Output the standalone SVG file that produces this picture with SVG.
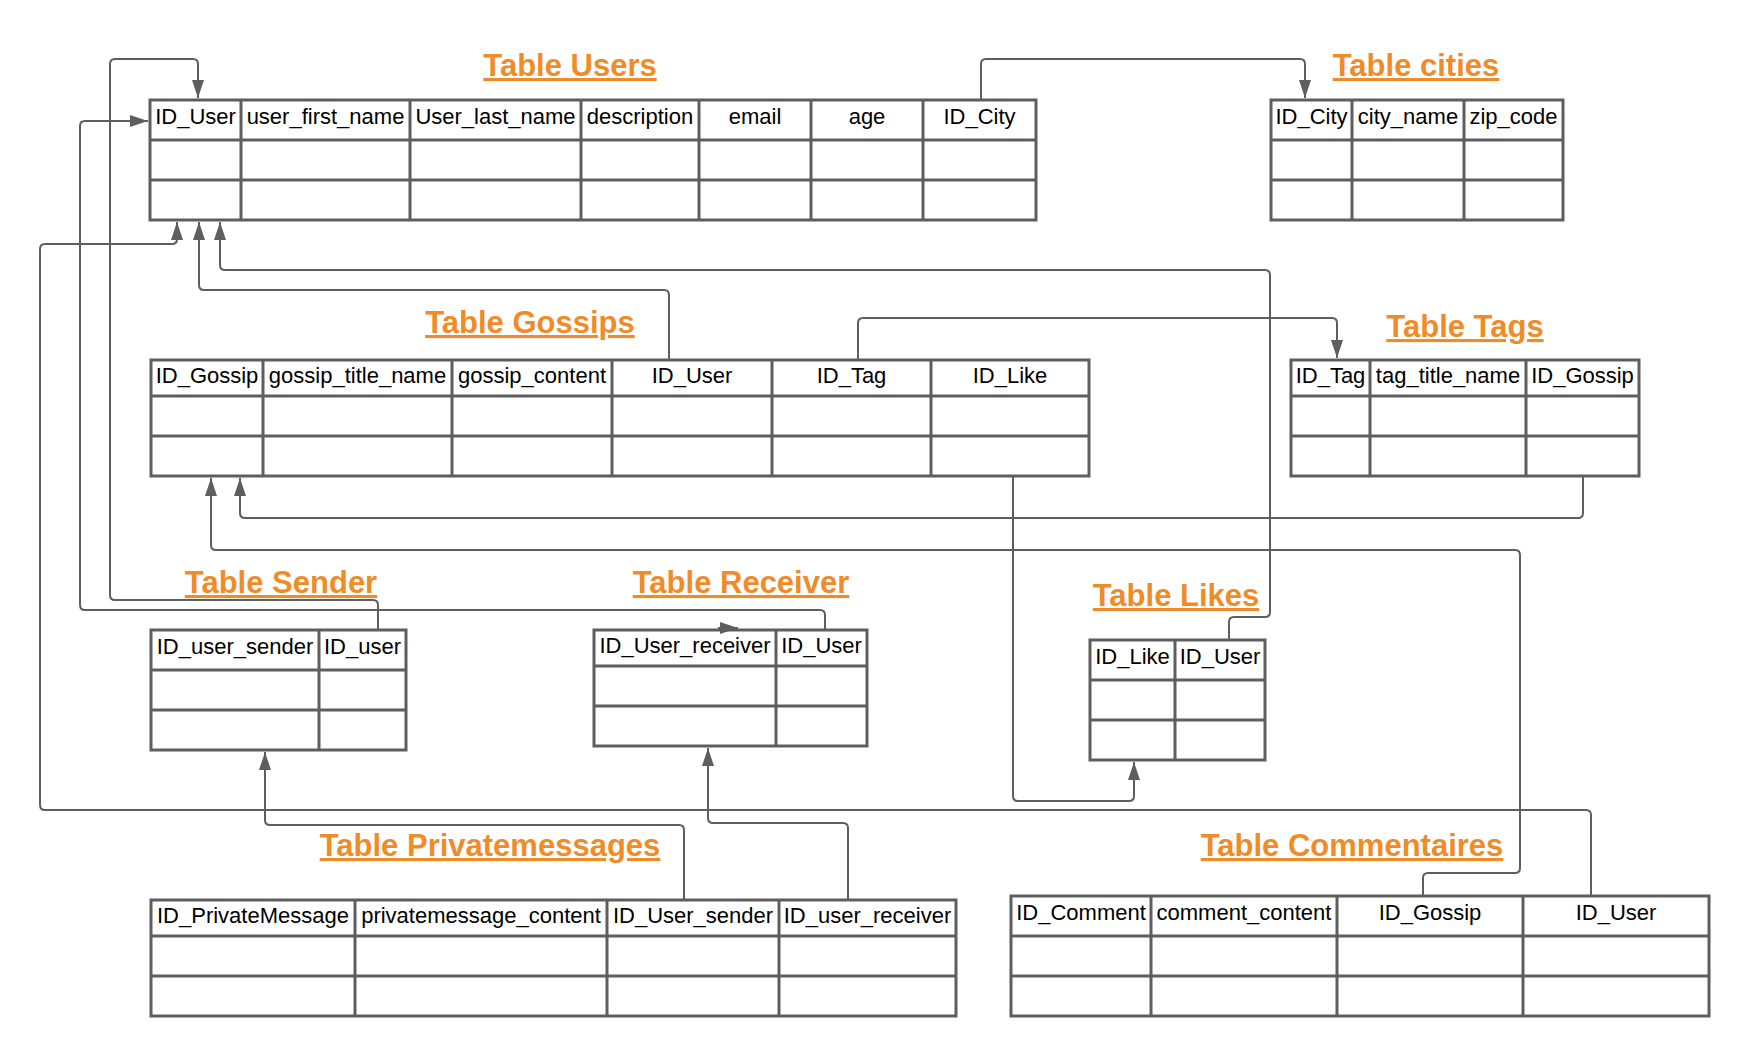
<svg xmlns="http://www.w3.org/2000/svg" width="1750" height="1057" viewBox="0 0 1750 1057">
<style>
.bg{fill:#ffffff}
.tb{fill:#ffffff;stroke:#5e5e5e;stroke-width:3}
.gl{fill:none;stroke:#5e5e5e;stroke-width:3}
.h{font-family:"Liberation Sans",Arial,sans-serif;font-size:22px;fill:#000000;text-anchor:middle}
.ttl{font-family:"Liberation Sans",Arial,sans-serif;font-size:31px;font-weight:bold;fill:#f08c28;text-anchor:middle;text-decoration:underline}
.cn{fill:none;stroke:#5e5e5e;stroke-width:2;marker-end:url(#ah)}
</style>
<defs>
<marker id="ah" markerUnits="userSpaceOnUse" markerWidth="18" markerHeight="12" refX="18" refY="6" orient="auto">
<path d="M0,0 L18,6 L0,12 z" fill="#5e5e5e"/>
</marker>
</defs>
<rect class="bg" x="0" y="0" width="1750" height="1057"/>

<g id="users">
<text class="ttl" x="570" y="76">Table Users</text>
<rect class="tb" x="150" y="100" width="886" height="120"/>
<path class="gl" d="M150,140H1036M150,180H1036M241,100V220M410,100V220M581,100V220M699,100V220M811,100V220M923,100V220"/>
<text class="h" x="195.5" y="124">ID_User</text>
<text class="h" x="325.5" y="124">user_first_name</text>
<text class="h" x="495.5" y="124">User_last_name</text>
<text class="h" x="640" y="124">description</text>
<text class="h" x="755" y="124">email</text>
<text class="h" x="867" y="124">age</text>
<text class="h" x="979.5" y="124">ID_City</text>
</g>

<g id="cities">
<text class="ttl" x="1416" y="76">Table cities</text>
<rect class="tb" x="1271" y="100" width="292" height="120"/>
<path class="gl" d="M1271,140H1563M1271,180H1563M1352,100V220M1464,100V220"/>
<text class="h" x="1311.5" y="124">ID_City</text>
<text class="h" x="1408" y="124">city_name</text>
<text class="h" x="1513.5" y="124">zip_code</text>
</g>

<g id="gossips">
<text class="ttl" x="530" y="333">Table Gossips</text>
<rect class="tb" x="151" y="360" width="938" height="116"/>
<path class="gl" d="M151,396H1089M151,436H1089M263,360V476M452,360V476M612,360V476M772,360V476M931,360V476"/>
<text class="h" x="207" y="383">ID_Gossip</text>
<text class="h" x="357.5" y="383">gossip_title_name</text>
<text class="h" x="532" y="383">gossip_content</text>
<text class="h" x="692" y="383">ID_User</text>
<text class="h" x="851.5" y="383">ID_Tag</text>
<text class="h" x="1010" y="383">ID_Like</text>
</g>

<g id="tags">
<text class="ttl" x="1465" y="337">Table Tags</text>
<rect class="tb" x="1291" y="360" width="348" height="116"/>
<path class="gl" d="M1291,396H1639M1291,436H1639M1370,360V476M1526,360V476"/>
<text class="h" x="1330.5" y="383">ID_Tag</text>
<text class="h" x="1448" y="383">tag_title_name</text>
<text class="h" x="1582.5" y="383">ID_Gossip</text>
</g>

<g id="sender">
<text class="ttl" x="281" y="593">Table Sender</text>
<rect class="tb" x="151" y="630" width="255" height="120"/>
<path class="gl" d="M151,670H406M151,710H406M319,630V750"/>
<text class="h" x="235" y="654">ID_user_sender</text>
<text class="h" x="362.5" y="654">ID_user</text>
</g>

<g id="receiver">
<text class="ttl" x="741" y="593">Table Receiver</text>
<rect class="tb" x="594" y="630" width="273" height="116"/>
<path class="gl" d="M594,666H867M594,706H867M776,630V746"/>
<text class="h" x="685" y="653">ID_User_receiver</text>
<text class="h" x="821.5" y="653">ID_User</text>
</g>

<g id="likes">
<text class="ttl" x="1176" y="606">Table Likes</text>
<rect class="tb" x="1090" y="640" width="175" height="120"/>
<path class="gl" d="M1090,680H1265M1090,720H1265M1175,640V760"/>
<text class="h" x="1132.5" y="664">ID_Like</text>
<text class="h" x="1220" y="664">ID_User</text>
</g>

<g id="privatemessages">
<text class="ttl" x="490" y="856">Table Privatemessages</text>
<rect class="tb" x="151" y="900" width="805" height="116"/>
<path class="gl" d="M151,936H956M151,976H956M355,900V1016M607,900V1016M779,900V1016"/>
<text class="h" x="253" y="923">ID_PrivateMessage</text>
<text class="h" x="481" y="923">privatemessage_content</text>
<text class="h" x="693" y="923">ID_User_sender</text>
<text class="h" x="867.5" y="923">ID_user_receiver</text>
</g>

<g id="commentaires">
<text class="ttl" x="1352" y="856">Table Commentaires</text>
<rect class="tb" x="1011" y="896" width="698" height="120"/>
<path class="gl" d="M1011,936H1709M1011,976H1709M1151,896V1016M1337,896V1016M1523,896V1016"/>
<text class="h" x="1081" y="920">ID_Comment</text>
<text class="h" x="1244" y="920">comment_content</text>
<text class="h" x="1430" y="920">ID_Gossip</text>
<text class="h" x="1616" y="920">ID_User</text>
</g>

<g id="connectors">
<path class="cn" d="M378,629 V605 Q378,600 373,600 H115 Q110,600 110,595 V64 Q110,59 115,59 H193 Q198,59 198,64 V98"/>
<path class="cn" d="M825,629 V615 Q825,610 820,610 H85 Q80,610 80,605 V126 Q80,121 85,121 H148"/>
<path class="cn" d="M1591,895 V815 Q1591,810 1586,810 H45 Q40,810 40,805 V249 Q40,244 45,244 H172 Q177,244 177,239 V222"/>
<path class="cn" d="M669,359 V295 Q669,290 664,290 H204 Q199,290 199,285 V222"/>
<path class="cn" d="M1229,639 V622 Q1229,617 1234,617 H1265 Q1270,617 1270,612 V275 Q1270,270 1265,270 H225 Q220,270 220,265 V222"/>
<path class="cn" d="M981,99 V64 Q981,59 986,59 H1300 Q1305,59 1305,64 V98"/>
<path class="cn" d="M858,359 V323 Q858,318 863,318 H1332 Q1337,318 1337,323 V358"/>
<path class="cn" d="M1583,477 V513 Q1583,518 1578,518 H245 Q240,518 240,513 V478"/>
<path class="cn" d="M1423,895 V878 Q1423,873 1428,873 H1515 Q1520,873 1520,868 V555 Q1520,550 1515,550 H216 Q211,550 211,545 V478"/>
<path class="cn" d="M1013,477 V796 Q1013,801 1018,801 H1129 Q1134,801 1134,796 V762"/>
<path class="cn" d="M684,899 V830 Q684,825 679,825 H270 Q265,825 265,820 V752"/>
<path class="cn" d="M848,899 V828 Q848,823 843,823 H713 Q708,823 708,818 V748"/>
<path class="cn" d="M718,628 H738"/>
</g>
</svg>
